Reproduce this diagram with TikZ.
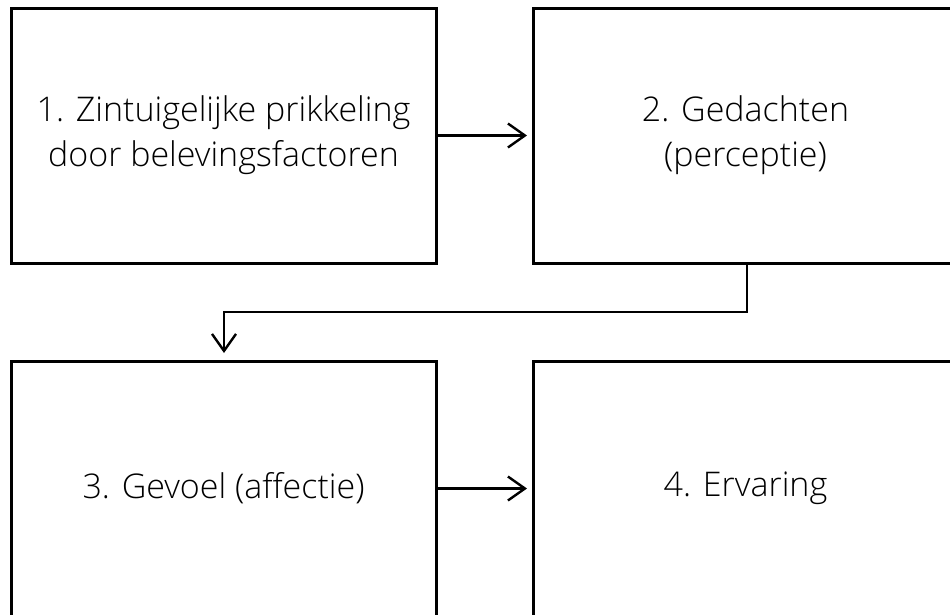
\documentclass[tikz,border=0pt]{standalone}
\usepackage{fontspec}
\setmainfont{Open Sans Light}
\usetikzlibrary{arrows.meta}
\begin{document}
\begin{tikzpicture}[x=1pt,y=-1pt,
  box/.style={draw,line width=3pt,minimum width=425pt,minimum height=255pt,inner sep=0pt,align=center,font=\fontsize{34}{45}\selectfont},
  conn/.style={line width=2.4pt,-{Straight Barb[length=17pt,width=24pt,line width=2.4pt]}}]
\useasboundingbox (0,0) rectangle (950,614);
\node[box] (b1) at (223.5,135.5) {1. Zintuigelijke prikkeling\\door belevingsfactoren};
\node[box] (b2) at (745.5,135.5) {2. Gedachten\\(perceptie)};
\node[box] (b3) at (223.5,488.5) {3. Gevoel (affectie)};
\node[box] (b4) at (745.5,488.5) {4. Ervaring};
\coordinate (t1) at (527,135.5);
\coordinate (t3) at (527,488.5);
\draw[conn] (b1.east) -- (t1);
\draw[conn] (b3.east) -- (t3);
\coordinate (c1) at (747,312);
\coordinate (c2) at (224,312);
\coordinate (c3) at (224,353);
\draw[conn] (b2.south -| c1) -- (c1) -- (c2) -- (c3);
\end{tikzpicture}
\end{document}
